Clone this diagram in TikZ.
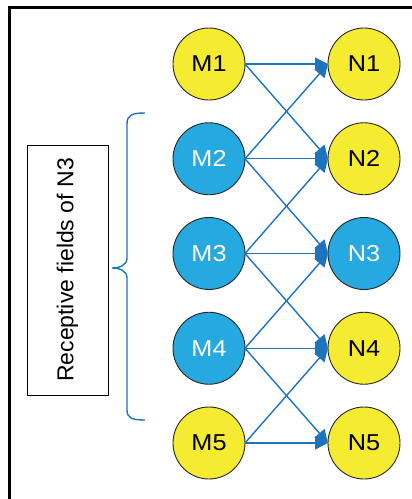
\documentclass[tikz,border=0pt]{standalone}
\usepackage{fontspec}
\setmainfont{Liberation Sans}
\usetikzlibrary{arrows.meta}
\definecolor{cyel}{RGB}{245,236,50}
\definecolor{cblu}{RGB}{38,168,224}
\definecolor{carr}{RGB}{30,115,190}
\begin{document}
\begin{tikzpicture}[x=1pt,y=-1pt,
 neuron/.style={circle,draw=black!85,line width=0.9pt,minimum size=72pt,inner sep=0pt,outer sep=0pt,font=\fontsize{23}{23}\selectfont},
 yel/.style={neuron,fill=cyel,text=black},
 blu/.style={neuron,fill=cblu,text=white},
 conn/.style={draw=carr,line width=1.4pt,-{Triangle[length=13pt,width=13pt]}},
 bracepath/.style={draw=carr,line width=1.4pt},
 labelbox/.style={draw=black,line width=0.9pt,rotate=90,minimum width=250pt,minimum height=81pt,inner sep=0pt,font=\fontsize{23}{23}\selectfont}]
\useasboundingbox (0,0) rectangle (412,499);
\draw[line width=3pt] (9.5,499) -- (9.5,7) -- (412,7);
% neurons
\node[yel] (m1) at (209,64) {\scalebox{1.1}[1]{M1}};
\node[blu] (m2) at (209,158.75) {\scalebox{1.1}[1]{M2}};
\node[blu] (m3) at (209,253.5) {\scalebox{1.1}[1]{M3}};
\node[blu] (m4) at (209,348.25) {\scalebox{1.1}[1]{M4}};
\node[yel] (m5) at (209,443) {\scalebox{1.1}[1]{M5}};
\node[yel] (n1) at (364,64) {\scalebox{1.1}[1]{N1}};
\node[yel] (n2) at (364,158.75) {\scalebox{1.1}[1]{N2}};
\node[blu] (n3) at (364,253.5) {\scalebox{1.1}[1]{N3}};
\node[yel] (n4) at (364,348.25) {\scalebox{1.1}[1]{N4}};
\node[yel] (n5) at (364,443) {\scalebox{1.1}[1]{N5}};
% connections
\foreach \i in {1,...,5}{
  \draw[conn] (m\i.east) -- (n\i.west);
}
\foreach \i/\j in {1/2,2/1,2/3,3/2,3/4,4/3,4/5,5/4}{
  \draw[conn] (m\i.east) -- (n\j.west);
}
% label box
\node[labelbox] (lbl) at (67.5,270) {Receptive fields of N3};
% brace
\draw[bracepath] (145,113) .. controls (132,113) and (127,115) .. (127,124)
  -- (127,258) .. controls (127,265) and (120,268) .. (112,268)
  .. controls (120,268) and (127,271) .. (127,278)
  -- (127,410) .. controls (127,418) and (132,420) .. (145,420);
\end{tikzpicture}
\end{document}
